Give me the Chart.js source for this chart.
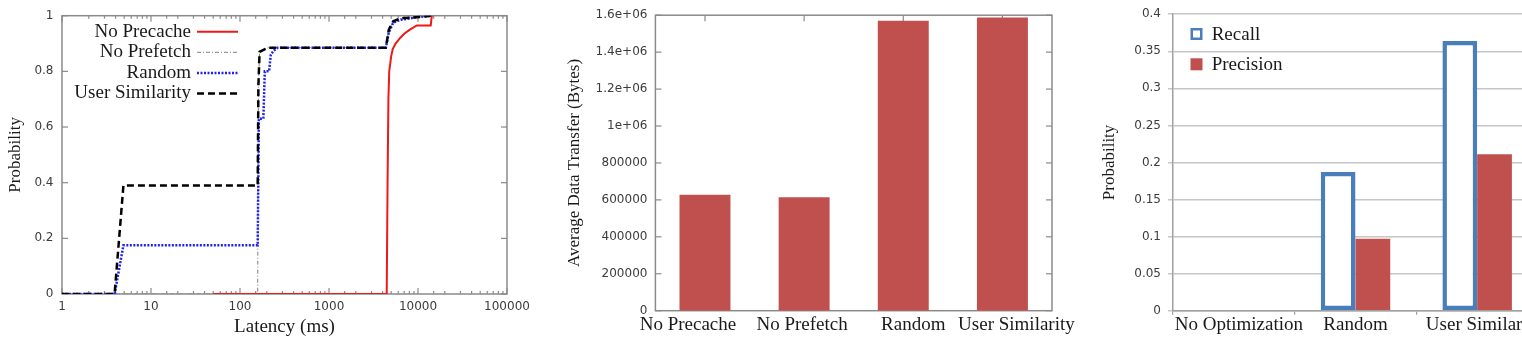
<!DOCTYPE html>
<html><head><meta charset="utf-8">
<script src="https://cdn.jsdelivr.net/npm/chart.js@4.4.0/dist/chart.umd.min.js"></script>
<style>
html,body{margin:0;padding:0;background:#fff;overflow:hidden;width:1522px;height:354px;position:relative;}
canvas.p{position:absolute;top:0;}
</style></head><body>
<canvas id="c1" class="p" style="left:0px" width="540" height="354"></canvas>
<canvas id="c2" class="p" style="left:540px" width="540" height="354"></canvas>
<canvas id="c3" class="p" style="left:1080px" width="470" height="354"></canvas>
<script>
// ---------- Panel 1: latency CDF ----------
const latencyTickLabels = ['1', '10', '100', '1000', '10000', '100000'];
const probTickLabels1 = ['0', '0.2', '0.4', '0.6', '0.8', '1'];

const noPrecacheX = [50, 4450, 4550, 4650, 4750, 5000, 5200, 5600, 6300, 7000, 8100, 9700, 13900, 14300];
const noPrecacheY = [0, 0, 0.4, 0.7, 0.8, 0.855, 0.88, 0.9, 0.92, 0.935, 0.95, 0.965, 0.965, 1.0];

const noPrefetchX = [1, 158, 161, 166, 205, 4350, 4700, 5270, 6300, 10000, 14300];
const noPrefetchY = [0, 0, 0.75, 0.87, 0.885, 0.885, 0.95, 0.98, 0.99, 0.995, 1.0];

const randomX = [1, 3.9, 4.9, 158, 163, 183, 190, 212, 222, 240, 265, 4350, 4700, 5270, 6300, 10000, 14300];
const randomY = [0, 0, 0.175, 0.175, 0.63, 0.63, 0.80, 0.80, 0.86, 0.875, 0.885, 0.885, 0.94, 0.975, 0.985, 0.995, 1.0];

const userSimX = [1, 3.9, 4.9, 158, 161, 166, 205, 4350, 4700, 5270, 6300, 10000, 14300];
const userSimY = [0, 0, 0.39, 0.39, 0.75, 0.87, 0.885, 0.885, 0.95, 0.98, 0.99, 0.995, 1.0];

// ---------- Panel 2: average data transfer ----------
const transferCategories = ['No Precache', 'No Prefetch', 'Random', 'User Similarity'];
const transferValues = [628000, 614000, 1570000, 1588000];
const transferTickLabels = ['0', '200000', '400000', '600000', '800000', '1e+06', '1.2e+06', '1.4e+06', '1.6e+06'];

// ---------- Panel 3: recall / precision ----------
const rpCategories = ['No Optimization', 'Random', 'User Similarity'];
const recallValues = [0, 0.187, 0.364];
const precisionValues = [0, 0.097, 0.211];
const probTickLabels3 = ['0', '0.05', '0.1', '0.15', '0.2', '0.25', '0.3', '0.35', '0.4'];

const SERIF = '"Liberation Serif", "Times New Roman", serif';
const SANS = '"DejaVu Sans", Verdana, sans-serif';
const TICK_COLOR = '#3c3c3c';
const TEXT_COLOR = '#1a1a1a';

function pts(xs, ys) { return xs.map((x, i) => ({ x: x, y: ys[i] })); }
function seg(ctx, x1, y1, x2, y2) { ctx.beginPath(); ctx.moveTo(x1, y1); ctx.lineTo(x2, y2); ctx.stroke(); }

// frame with inward tick marks (gnuplot-like)
function framePlugin(kind) {
  return {
    id: 'frame',
    beforeDatasetsDraw(chart) {
      const { ctx, chartArea: a, scales } = chart;
      ctx.save();
      ctx.strokeStyle = '#8a8a8a';
      ctx.lineWidth = 1.5;
      ctx.setLineDash([]);
      ctx.strokeRect(a.left, a.top, a.right - a.left, a.bottom - a.top);
      ctx.lineWidth = 1.2;
      const ys = scales.y;
      ys.ticks.forEach(t => {
        const p = ys.getPixelForValue(t.value);
        seg(ctx, a.left, p, a.left + 6, p);
        seg(ctx, a.right, p, a.right - 6, p);
      });
      const xs = scales.x;
      if (kind === 'log') {
        xs.ticks.forEach(t => {
          const v = t.value;
          const l = Math.log10(v);
          const major = Math.abs(l - Math.round(l)) < 1e-9;
          const L = major ? 6 : 3;
          const p = xs.getPixelForValue(v);
          seg(ctx, p, a.bottom, p, a.bottom - L);
          seg(ctx, p, a.top, p, a.top + L);
        });
      } else {
        xs.ticks.forEach((t, i) => {
          const p = xs.getPixelForTick(i);
          seg(ctx, p, a.bottom, p, a.bottom - 6);
          seg(ctx, p, a.top, p, a.top + 6);
        });
      }
      ctx.restore();
    }
  };
}

// category labels drawn with small horizontal nudges (as laid out in the original figure)
function catLabelPlugin(nudges, yCenter) {
  return {
    id: 'catLabels',
    afterDraw(chart) {
      const { ctx } = chart;
      const xs = chart.scales.x;
      ctx.save();
      ctx.font = '19px ' + SERIF;
      ctx.textAlign = 'center';
      ctx.textBaseline = 'middle';
      ctx.fillStyle = TEXT_COLOR;
      chart.data.labels.forEach((lab, i) => {
        ctx.fillText(lab, xs.getPixelForTick(i) + nudges[i], yCenter);
      });
      ctx.restore();
    }
  };
}

// ---------- Chart 1 ----------
const legend1 = {
  id: 'legend1',
  afterDatasetsDraw(chart) {
    const { ctx, chartArea: a } = chart;
    ctx.save();
    chart.data.datasets.forEach((ds, i) => {
      const y = a.top + 16 + i * 20.6;
      ctx.font = '19px ' + SERIF;
      ctx.textAlign = 'right';
      ctx.textBaseline = 'middle';
      ctx.fillStyle = TEXT_COLOR;
      ctx.fillText(ds.label, a.left + 129, y);
      ctx.strokeStyle = ds.borderColor;
      ctx.lineWidth = ds.borderWidth;
      ctx.setLineDash(ds.borderDash || []);
      seg(ctx, a.left + 135, y, a.left + 176, y);
    });
    ctx.restore();
  }
};

new Chart(document.getElementById('c1'), {
  type: 'line',
  data: {
    datasets: [
      { label: 'No Precache', data: pts(noPrecacheX, noPrecacheY), borderColor: '#f01818', borderWidth: 2, borderDash: [], order: 0 },
      { label: 'No Prefetch', data: pts(noPrefetchX, noPrefetchY), borderColor: '#808080', borderWidth: 1, borderDash: [4, 2, 1, 2], order: 3 },
      { label: 'Random', data: pts(randomX, randomY), borderColor: '#2020f0', borderWidth: 2.5, borderDash: [2, 1.5], order: 2 },
      { label: 'User Similarity', data: pts(userSimX, userSimY), borderColor: '#000000', borderWidth: 2.5, borderDash: [7, 4], order: 1 }
    ]
  },
  options: {
    responsive: false, animation: false, devicePixelRatio: 1,
    layout: { padding: { left: 0, top: 12, right: 33, bottom: 0 } },
    elements: { point: { radius: 0 }, line: { tension: 0, fill: false } },
    plugins: { legend: { display: false }, tooltip: { enabled: false } },
    scales: {
      x: {
        type: 'logarithmic', min: 1, max: 100000,
        grid: { display: false, drawTicks: false }, border: { display: false },
        ticks: {
          autoSkip: false, maxRotation: 0, padding: 6, color: TICK_COLOR,
          font: { family: SANS, size: 12 },
          callback: (v) => {
            const l = Math.log10(v);
            return Math.abs(l - Math.round(l)) < 1e-9 ? latencyTickLabels[Math.round(l)] : '';
          }
        },
        title: { display: true, text: 'Latency (ms)', color: TEXT_COLOR, font: { family: SERIF, size: 19 }, padding: { top: 0, bottom: 15.6 } },
        afterFit: (s) => { s.height = 60; }
      },
      y: {
        min: 0, max: 1,
        grid: { display: false, drawTicks: false }, border: { display: false },
        ticks: { stepSize: 0.2, padding: 8.5, color: TICK_COLOR, font: { family: SANS, size: 12 },
          callback: (v, i) => probTickLabels1[i] },
        title: { display: true, text: 'Probability', color: TEXT_COLOR, font: { family: SERIF, size: 17 }, padding: { top: 5.3, bottom: 0 } },
        afterFit: (s) => { s.width = 62; }
      }
    }
  },
  plugins: [framePlugin('log'), legend1]
});

// ---------- Chart 2 ----------
new Chart(document.getElementById('c2'), {
  type: 'bar',
  data: {
    labels: transferCategories,
    datasets: [{ label: 'Average Data Transfer', data: transferValues, backgroundColor: '#c0504d', borderWidth: 0, barPercentage: 0.514, categoryPercentage: 1 }]
  },
  options: {
    responsive: false, animation: false, devicePixelRatio: 1,
    layout: { padding: { left: 0, top: 12, right: 28, bottom: 0 } },
    plugins: { legend: { display: false }, tooltip: { enabled: false } },
    scales: {
      x: {
        grid: { display: false, drawTicks: false }, border: { display: false },
        ticks: { display: false },
        afterFit: (s) => { s.height = 43.3; }
      },
      y: {
        min: 0, max: 1600000,
        grid: { display: false, drawTicks: false }, border: { display: false },
        ticks: { stepSize: 200000, padding: 8, color: TICK_COLOR, font: { family: SANS, size: 12 },
          callback: (v, i) => transferTickLabels[i] },
        title: { display: true, text: 'Average Data Transfer (Bytes)', color: TEXT_COLOR, font: { family: SERIF, size: 17 }, padding: { top: 24.5, bottom: 0 } },
        afterFit: (s) => { s.width = 115.4; }
      }
    }
  },
  plugins: [framePlugin('cat'), catLabelPlugin([-17, -2, 10, 14], 325)]
});

// ---------- Chart 3 ----------
const legend3 = {
  id: 'legend3',
  afterDatasetsDraw(chart) {
    const { ctx, chartArea: a } = chart;
    ctx.save();
    chart.data.datasets.forEach((ds, i) => {
      const y = 34 + i * 30.3;
      const x0 = a.left + 17.5;
      if (ds.borderWidth > 0) {
        ctx.fillStyle = '#fff';
        ctx.fillRect(x0, y - 6, 12, 12);
        ctx.strokeStyle = ds.borderColor;
        ctx.lineWidth = 2.5;
        ctx.strokeRect(x0 + 1.25, y - 4.75, 9.5, 9.5);
      } else {
        ctx.fillStyle = ds.backgroundColor;
        ctx.fillRect(x0, y - 6, 12, 12);
      }
      ctx.font = '19px ' + SERIF;
      ctx.textAlign = 'left';
      ctx.textBaseline = 'middle';
      ctx.fillStyle = TEXT_COLOR;
      ctx.fillText(ds.label, a.left + 38.7, y + 1);
    });
    ctx.restore();
  }
};

new Chart(document.getElementById('c3'), {
  type: 'bar',
  data: {
    labels: rpCategories,
    datasets: [
      { label: 'Recall', data: recallValues, backgroundColor: '#ffffff', borderColor: '#4a7ebb', borderWidth: 4.5, borderSkipped: false, categoryPercentage: 0.571, barPercentage: 1 },
      { label: 'Precision', data: precisionValues, backgroundColor: '#c0504d', borderWidth: 0, categoryPercentage: 0.571, barPercentage: 1 }
    ]
  },
  options: {
    responsive: false, animation: false, devicePixelRatio: 1,
    layout: { padding: { left: 0, top: 12.7, right: 12, bottom: 0 } },
    plugins: { legend: { display: false }, tooltip: { enabled: false } },
    scales: {
      x: {
        grid: { display: true, drawOnChartArea: false, drawTicks: true, tickLength: 4, color: '#a0a0a0', lineWidth: 1.2, offset: true },
        border: { display: true, color: '#a0a0a0', width: 1.5 },
        ticks: { display: false },
        afterFit: (s) => { s.height = 43.3; }
      },
      y: {
        min: 0, max: 0.4,
        grid: { display: true, color: '#c6c6c6', lineWidth: 1.5, drawTicks: true, tickLength: 5 },
        border: { display: true, color: '#a0a0a0', width: 1.5 },
        ticks: { stepSize: 0.05, padding: 7, color: TICK_COLOR, font: { family: SANS, size: 12 },
          callback: (v, i) => probTickLabels3[i] },
        title: { display: true, text: 'Probability', color: TEXT_COLOR, font: { family: SERIF, size: 17 }, padding: { top: 19, bottom: 0 } },
        afterFit: (s) => { s.width = 93; }
      }
    }
  },
  plugins: [legend3, catLabelPlugin([5, 0, 7], 325)]
});
</script>
</body></html>
